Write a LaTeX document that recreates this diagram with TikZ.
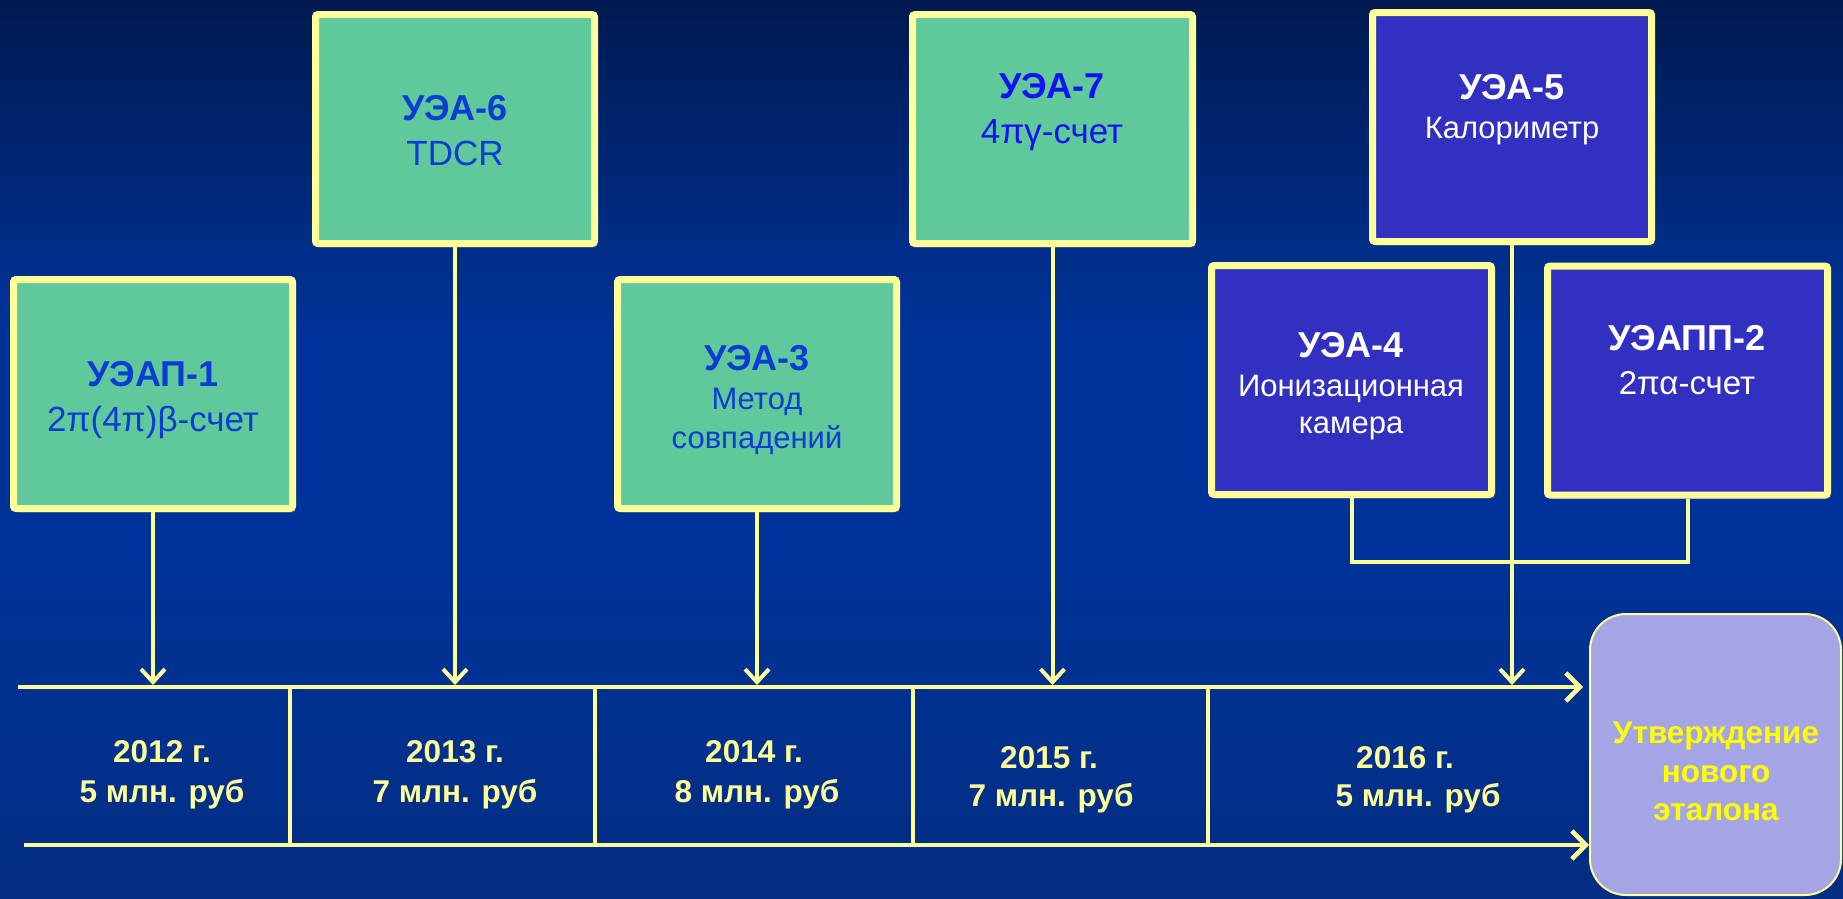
\documentclass[tikz,border=0pt]{standalone}
\usepackage{fontspec}
\setmainfont{Liberation Sans}
\usetikzlibrary{arrows.meta,shadows}
\definecolor{yel}{HTML}{FFFF99}
\definecolor{grn}{HTML}{5FC99B}
\definecolor{blu}{HTML}{3230C0}
\definecolor{tb}{HTML}{0D3CD4}
\definecolor{tbb}{HTML}{1212F2}
\definecolor{finfill}{HTML}{A5A5E6}
\definecolor{fintext}{HTML}{FFFF00}
\definecolor{bgtop}{HTML}{001A50}
\definecolor{bgmid}{HTML}{003399}
\definecolor{bgbot}{HTML}{032D82}
\begin{document}
\begin{tikzpicture}[x=1pt,y=-1pt,
  box/.style={draw=yel, line width=7pt, rounded corners=2.5pt,
    minimum width=279pt, minimum height=229pt, inner sep=0pt,
    drop shadow={opacity=0.3, shadow xshift=3pt, shadow yshift=-4pt}},
  gbox/.style={box, fill=grn},
  bbox/.style={box, fill=blu},
  ttl/.style={anchor=base, inner sep=0pt, font=\fontsize{36}{40}\selectfont\bfseries},
  subbig/.style={anchor=base, inner sep=0pt, font=\fontsize{35}{40}\selectfont},
  subsm/.style={anchor=base, inner sep=0pt, font=\fontsize{31}{36}\selectfont},
  yeartxt/.style={anchor=base, inner sep=0pt, text=yel, font=\fontsize{31.5}{36}\selectfont\bfseries},
  fintxt/.style={anchor=base, inner sep=0pt, text=fintext, font=\fontsize{31.5}{36}\selectfont\bfseries},
  conn/.style={draw=yel, line width=4pt},
  tline/.style={draw=yel, line width=4.5pt},
  arr/.style={conn, -{Straight Barb[length=13pt,width=24pt]}},
  tarr/.style={tline, -{Straight Barb[length=14pt,width=28pt]}}
]
\useasboundingbox (0,0) rectangle (1843,898);
\shade[top color=bgtop, bottom color=bgmid] (0,0) rectangle (1843,330.5);
\fill[bgmid] (0,330) rectangle (1843,560.5);
\shade[top color=bgmid, bottom color=bgbot] (0,560) rectangle (1843,898);

% boxes
\node[gbox] (b1) at (153,394) {};
\node[gbox] (b6) at (455,129) {};
\node[gbox] (b3) at (757,394) {};
\node[gbox, minimum width=280pt] (b7) at (1052.5,129) {};
\node[bbox] (b5) at (1512,127) {};
\node[bbox, minimum width=280pt] (b4) at (1351.5,380) {};
\node[bbox, minimum width=280pt] (b2) at (1687.5,380.5) {};
\node[draw=yel, line width=2pt, fill=finfill, rounded corners=36pt,
      minimum width=251pt, minimum height=281pt, inner sep=0pt] (fin) at (1715.5,754.5) {};

% box texts
\node[ttl, text=tb] (t1a) at (153,386) {УЭАП-1};
\node[subbig, text=tb] (t1b) at (153,431) {2π(4π)β-счет};
\node[ttl, text=tb] (t6a) at (455,120) {УЭА-6};
\node[subbig, text=tb] (t6b) at (455,165) {TDCR};
\node[ttl, text=tbb] (t7a) at (1052,98) {УЭА-7};
\node[subbig, text=tbb] (t7b) at (1052,143) {4πγ-счет};
\node[ttl, text=tb] (t3a) at (757,370) {УЭА-3};
\node[subsm, text=tb] (t3b) at (757,409) {Метод};
\node[subsm, text=tb] (t3c) at (757,448) {совпадений};
\node[ttl, text=white] (t5a) at (1512,99) {УЭА-5};
\node[subsm, text=white] (t5b) at (1512,138) {Калориметр};
\node[ttl, text=white] (t4a) at (1351,357) {УЭА-4};
\node[subsm, text=white] (t4b) at (1351,396) {Ионизационная};
\node[subsm, text=white] (t4c) at (1351,433) {камера};
\node[ttl, text=white] (t2a) at (1687,350) {УЭАПП-2};
\node[subbig, font=\fontsize{33}{38}\selectfont, text=white] (t2b) at (1687,394) {2πα-счет};
\node[fintxt] (f1) at (1716,743) {Утверждение};
\node[fintxt] (f2) at (1716,782) {нового};
\node[fintxt] (f3) at (1716,820) {эталона};

% timeline
\coordinate (tl) at (18,687);
\coordinate (bl) at (24,845);
\draw[tarr, shorten >=6pt] (tl) -- (tl -| fin.west);
\draw[tarr] (bl) -- (bl -| fin.west);
\coordinate (d1t) at (290,687); \coordinate (d1b) at (290,845);
\coordinate (d2t) at (595,687); \coordinate (d2b) at (595,845);
\coordinate (d3t) at (913,687); \coordinate (d3b) at (913,845);
\coordinate (d4t) at (1208,687); \coordinate (d4b) at (1208,845);
\draw[conn] (d1t) -- (d1b);
\draw[conn] (d2t) -- (d2b);
\draw[conn] (d3t) -- (d3b);
\draw[conn] (d4t) -- (d4b);

% vertical arrows
\draw[arr] (b1.south) -- ([yshift=2pt]b1.south |- tl);
\draw[arr] (b6.south) -- ([yshift=2pt]b6.south |- tl);
\draw[arr] (b3.south) -- ([yshift=2pt]b3.south |- tl);
\draw[arr] (b7.south) -- ([yshift=2pt]b7.south |- tl);
\draw[arr] (b5.south) -- ([yshift=2pt]b5.south |- tl);
\coordinate (j) at (1351.5,562);
\draw[conn] (b4.south) -- (j) -| (b2.south);

% year texts
\node[yeartxt] (y1a) at (162,762) {2012 г.};
\node[yeartxt] (y1b) at (162,802) {5 млн. руб};
\node[yeartxt] (y2a) at (455,762) {2013 г.};
\node[yeartxt] (y2b) at (455,802) {7 млн. руб};
\node[yeartxt] (y3a) at (754,762) {2014 г.};
\node[yeartxt] (y3b) at (757,802) {8 млн. руб};
\node[yeartxt] (y4a) at (1049,768) {2015 г.};
\node[yeartxt] (y4b) at (1051,806) {7 млн. руб};
\node[yeartxt] (y5a) at (1405,768) {2016 г.};
\node[yeartxt] (y5b) at (1418,806) {5 млн. руб};
\end{tikzpicture}
\end{document}
